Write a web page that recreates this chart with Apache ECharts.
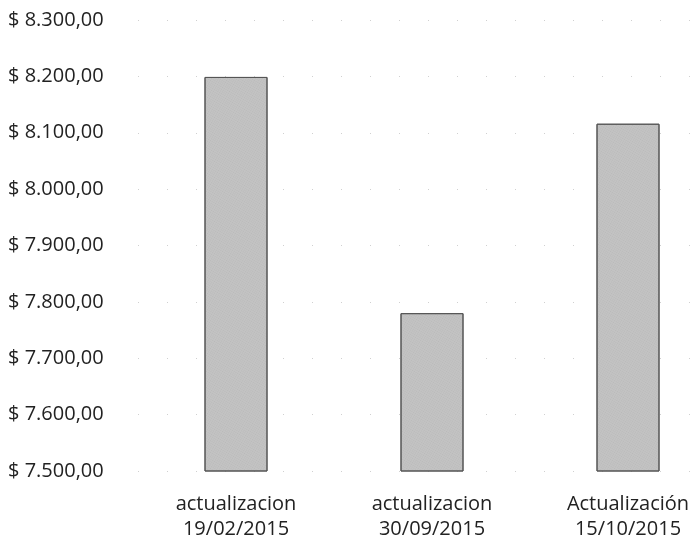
<!DOCTYPE html>
<html><head><meta charset="utf-8">
<script src="https://cdn.jsdelivr.net/npm/echarts@6/dist/echarts.min.js"></script>
<style>html,body{margin:0;padding:0;background:#fff}#c{width:694px;height:546px}</style>
</head><body><div id="c"></div>
<script>
var categories = ['actualizacion\n19/02/2015', 'actualizacion\n30/09/2015', 'Actualización\n15/10/2015'];
var values = [8199, 7780, 8116];
var yMin = 7500, yMax = 8300, yStep = 100;

function fmt(v){
  var s = Math.round(v).toString().replace(/\B(?=(\d{3})+(?!\d))/g, '.');
  return '$ ' + s + ',00';
}
var FONT = 'Open Sans';
var chart = echarts.init(document.getElementById('c'));
chart.setOption({
  animation: false,
  backgroundColor: '#ffffff',
  grid: [
    {left: 236, right: 66, top: 20, bottom: 75},
    {left: 138, right: 0, top: 20, bottom: 75}
  ],
  xAxis: [{
    type: 'category', data: categories, gridIndex: 0, boundaryGap: false,
    axisLine: {show: false}, axisTick: {show: false},
    axisLabel: {color: '#222', fontFamily: FONT, fontSize: 20, lineHeight: 25, margin: 21}
  }, {
    type: 'category', data: [''], gridIndex: 1, show: false
  }],
  yAxis: [{
    type: 'value', gridIndex: 0, min: yMin, max: yMax, interval: yStep,
    axisLine: {show: false}, axisTick: {show: false}, splitLine: {show: false},
    axisLabel: {color: '#222', fontFamily: FONT, fontSize: 20, align: 'left', margin: 228, formatter: fmt}
  }, {
    type: 'value', gridIndex: 1, min: yMin, max: yMax, interval: yStep,
    axisLine: {show: false}, axisTick: {show: false}, axisLabel: {show: false},
    splitLine: {show: true, lineStyle: {color: '#d0d0d0', type: [1, 28], width: 1}}
  }],
  series: [{
    type: 'bar', data: values, barWidth: 63, xAxisIndex: 0, yAxisIndex: 0,
    itemStyle: {color: '#c3c3c3', borderColor: '#555', borderWidth: 1,
      decal: {symbol: 'rect', symbolSize: 0.5, dashArrayX: [1, 1], dashArrayY: [1, 1], color: 'rgba(90,90,90,0.35)'}}
  }],
  aria: {enabled: true, decal: {show: true}}
});
</script></body></html>
